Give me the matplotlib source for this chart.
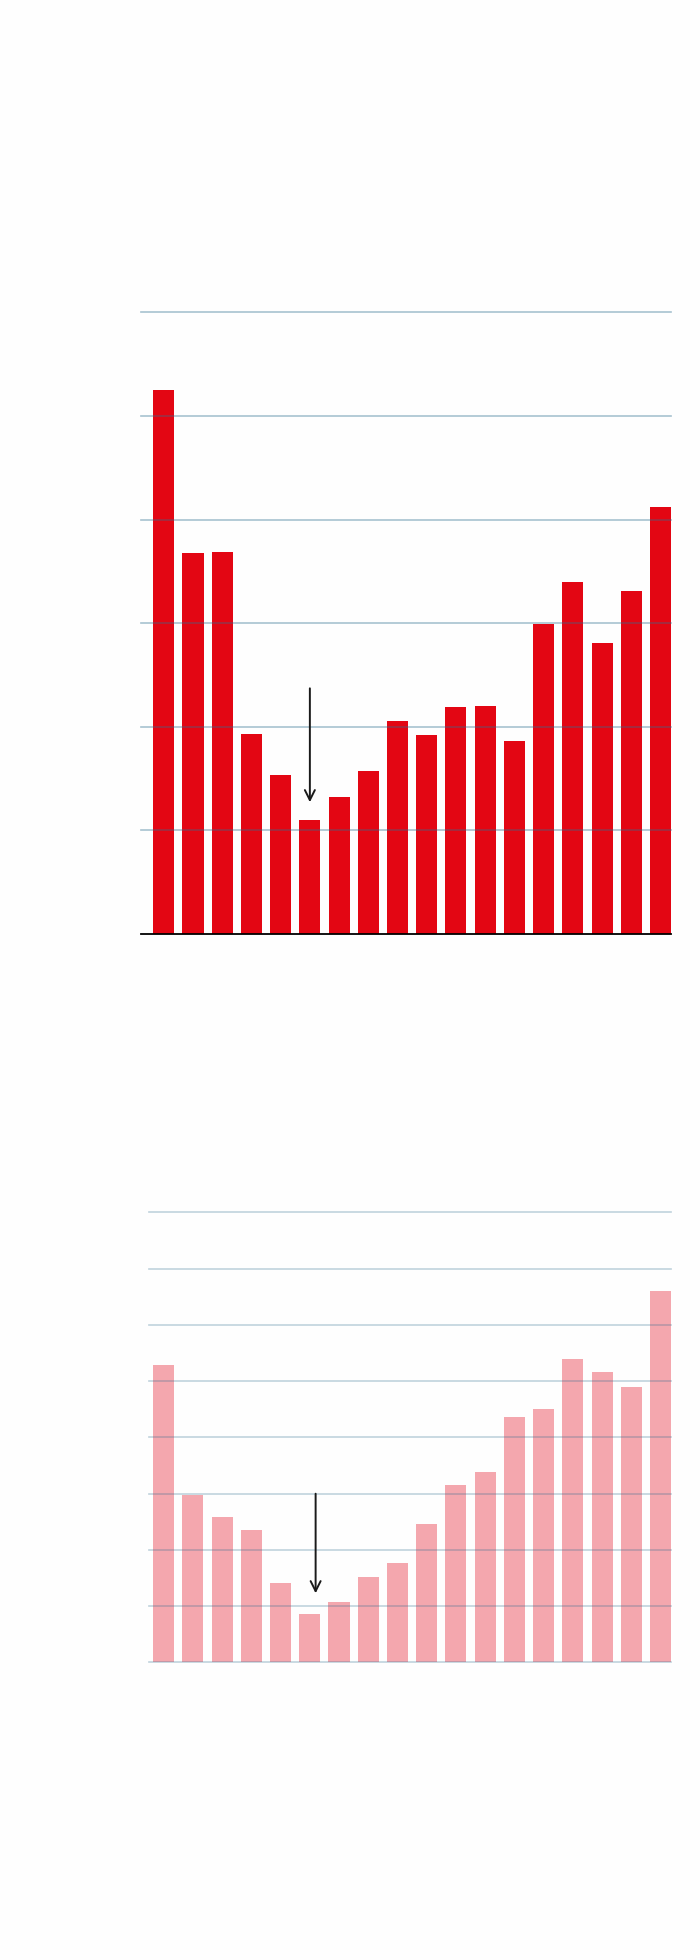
#!/usr/bin/env python3
"""Two stacked bar charts with arrows marking the low point."""

import matplotlib.pyplot as plt
import numpy as np

# values in grid units (top: 6 gridlines, bottom: 8 gridlines)
top_values = [5.25, 3.68, 3.69, 1.93, 1.53, 1.10, 1.32, 1.57, 2.05,
              1.92, 2.19, 2.20, 1.86, 2.99, 3.40, 2.81, 3.31, 4.12]
bottom_values = [5.28, 2.98, 2.59, 2.35, 1.42, 0.87, 1.08, 1.52, 1.77,
                 2.47, 3.16, 3.39, 4.37, 4.50, 5.40, 5.17, 4.89, 6.61]
top_arrow = (5, 2.37, 1.27)        # bar index, start value, end value
bottom_arrow = (5.2, 3.0, 1.23)

TOP_COLOR = "#e30613"
BOTTOM_COLOR = "#f4a7ae"
GRID_COLOR = "#2f6f8f"


def draw_panel(ax, values, color, n_grid, arrow, grid_alpha, black_base, xleft):
    x = np.arange(len(values))
    ax.bar(x, values, width=0.72, color=color, linewidth=0, zorder=1)
    for level in range(0 if not black_base else 1, n_grid + 1):
        ax.axhline(level, color=GRID_COLOR, alpha=grid_alpha, linewidth=1.2, zorder=2, clip_on=False)
    if black_base:
        ax.axhline(0, color="black", linewidth=1.3, zorder=3, clip_on=False)
    ax.set_xlim(xleft, len(values) - 1 + 0.36)
    ax.set_ylim(0, n_grid)
    ax.axis("off")
    xi, y0, y1 = arrow
    ax.annotate("", xy=(xi, y1), xytext=(xi, y0),
                arrowprops=dict(arrowstyle="->", color="#1a1a1a", lw=1.4,
                                mutation_scale=18, shrinkA=0, shrinkB=0),
                zorder=4)


def main() -> None:
    fig = plt.figure(figsize=(7, 19.6), dpi=100)
    fig.patch.set_facecolor("#fefefe")

    ax_top = fig.add_axes([0.2014, 0.5236, 0.7572, 0.3170])
    draw_panel(ax_top, top_values, TOP_COLOR, 6, top_arrow, 0.42, True, -0.78)

    ax_bot = fig.add_axes([0.2129, 0.1518, 0.7457, 0.2296])
    draw_panel(ax_bot, bottom_values, BOTTOM_COLOR, 8, bottom_arrow, 0.30, False, -0.5)

    fig.savefig("out.png", dpi=100, facecolor=fig.get_facecolor())


if __name__ == "__main__":
    main()
